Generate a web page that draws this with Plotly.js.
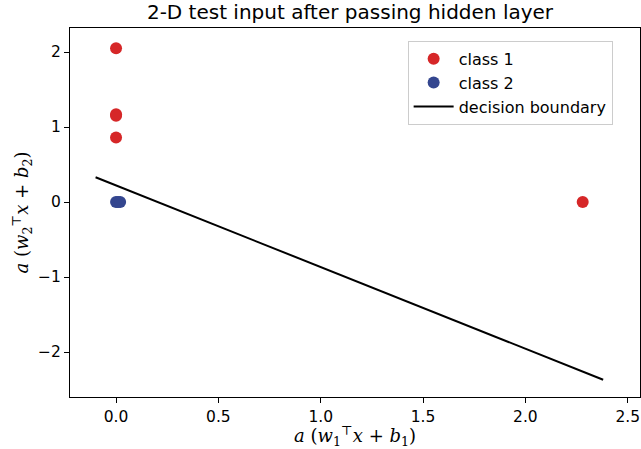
<!DOCTYPE html>
<html><head><meta charset="utf-8">
<script src="https://cdn.plot.ly/plotly-3.0.1.min.js"></script>
<style>html,body{margin:0;padding:0;background:#fff}#c{width:641px;height:449px}</style>
</head><body><div id="c"></div>
<script>
const class1X = [0, 0, 0, 0, 2.28];
const class1Y = [2.05, 1.17, 1.15, 0.86, 0];
const class2X = [0, 0.01, 0.02];
const class2Y = [0, 0, 0];
const boundaryX = [-0.1, 2.38];
const boundaryY = [0.33, -2.37];
const xTicks = [0, 0.5, 1, 1.5, 2, 2.5];
const xTickText = ['0.0', '0.5', '1.0', '1.5', '2.0', '2.5'];
const yTicks = [-2, -1, 0, 1, 2];
const yTickText = ['\u22122', '\u22121', '0', '1', '2'];

const data = [
  {x: class1X, y: class1Y, mode: 'markers', type: 'scatter', name: 'class 1',
   marker: {color: '#d62728', size: 12}},
  {x: class2X, y: class2Y, mode: 'markers', type: 'scatter', name: 'class 2',
   marker: {color: '#34468f', size: 12}},
  {x: boundaryX, y: boundaryY, mode: 'lines', type: 'scatter', name: 'decision boundary',
   line: {color: '#000', width: 2}}
];
const axisCommon = {showgrid: false, zeroline: false, showline: true, mirror: true,
  linecolor: '#000', linewidth: 1, ticks: 'outside', ticklen: 5, tickcolor: '#000',
  tickfont: {family: 'DejaVu Sans', size: 15.5, color: '#000'}};
const layout = {
  width: 641, height: 449,
  margin: {l: 70, r: 1, t: 28, b: 52},
  paper_bgcolor: '#fff', plot_bgcolor: '#fff',
  title: {text: '2-D test input after passing hidden layer', font: {family: 'DejaVu Sans', size: 20, color: '#000'},
    x: 0.546, xanchor: 'center', y: 0.99, yanchor: 'top'},
  xaxis: Object.assign({}, axisCommon, {range: [-0.225, 2.56], tickvals: xTicks, ticktext: xTickText,
    title: {text: '<i>a</i> (<i>w</i><sub>1</sub><sup>\u22a4</sup><i>x</i> + <i>b</i><sub>1</sub>)', font: {family: 'DejaVu Serif', size: 18, color: '#000'}, standoff: 0}}),
  yaxis: Object.assign({}, axisCommon, {range: [-2.6, 2.32], tickvals: yTicks, ticktext: yTickText,
    title: {text: '<i>a</i> (<i>w</i><sub>2</sub><sup>\u22a4</sup><i>x</i> + <i>b</i><sub>2</sub>)', font: {family: 'DejaVu Serif', size: 18, color: '#000'}, standoff: 4}}),
  showlegend: true,
  legend: {x: 0.952, y: 0.965, xanchor: 'right', yanchor: 'top', bgcolor: '#fff', bordercolor: '#ccc', borderwidth: 1,
    font: {family: 'DejaVu Sans', size: 16, color: '#000'}, itemwidth: 40, tracegroupgap: 0}
};
Plotly.newPlot('c', data, layout, {displayModeBar: false, staticPlot: true});
</script></body></html>
